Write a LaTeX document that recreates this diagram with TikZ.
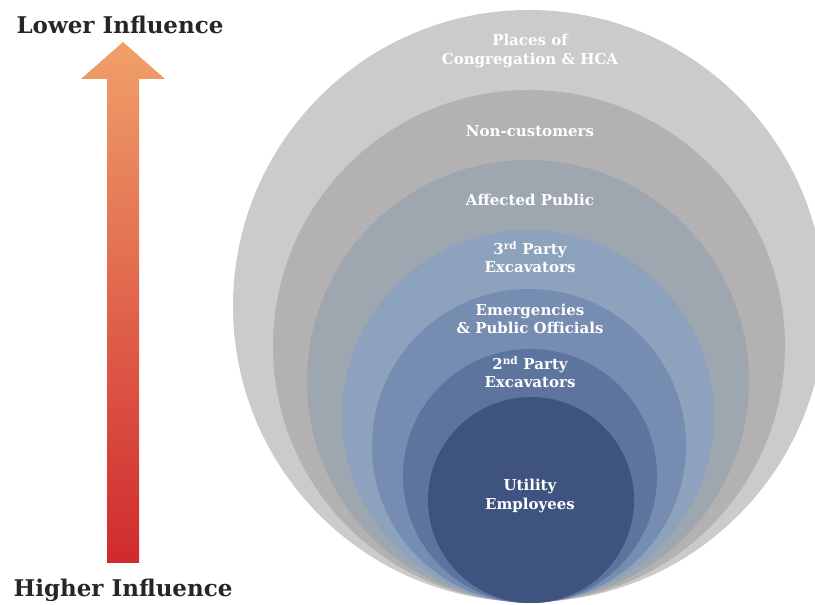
\documentclass[tikz,border=0pt]{standalone}
\usepackage{fontspec}
\setmainfont{DejaVu Serif}
\usepackage{tikz}

\definecolor{ringA}{HTML}{CCCBCC}
\definecolor{ringB}{HTML}{B4B1B2}
\definecolor{ringC}{HTML}{9EA6B0}
\definecolor{ringD}{HTML}{8CA2BD}
\definecolor{ringE}{HTML}{768DB1}
\definecolor{ringF}{HTML}{5C749E}
\definecolor{ringG}{HTML}{3E5380}
\definecolor{arrowtop}{HTML}{F0A06A}
\definecolor{arrowbottom}{HTML}{D02A2E}

\begin{document}
\begin{tikzpicture}[x=1pt, y=1pt,
    ringtext/.style={text=white, align=center, inner sep=0pt,
        font=\bfseries\fontsize{15}{18.5}\selectfont},
    influence/.style={text=black!85, inner sep=0pt,
        font=\bfseries\fontsize{23}{26}\selectfont}]
            \clip (0,0) rectangle (815,605);

            % Circulos (tangentes abajo)
            \fill[ringA] (529,299) circle (296);
            \fill[ringB] (529,259) circle (256);
            \fill[ringC] (528,224) circle (221);
            \fill[ringD] (528,189) circle (186);
            \fill[ringE] (529,159) circle (157);
            \fill[ringF] (530,129) circle (127);
            \fill[ringG] (531,105) circle (103);

            % Textos de los circulos
            \node[ringtext] (places) at (530,554) {Places of\\Congregation \& HCA};
            \node[ringtext] (noncust) at (530,474) {Non-customers};
            \node[ringtext] (affected) at (530,405) {Affected Public};
            \node[ringtext] (third) at (530,348) {3\textsuperscript{rd} Party\\Excavators};
            \node[ringtext] (emerg) at (530,286) {Emergencies\\\& Public Officials};
            \node[ringtext] (second) at (530,233) {2\textsuperscript{nd} Party\\Excavators};
            \node[ringtext] (utility) at (530,109) {Utility\\Employees};

            % Flecha
            \shade[top color=arrowtop, bottom color=arrowbottom]
                (107,42) -- (107,526) -- (81,526) -- (123,563) -- (165,526) -- (139,526) -- (139,42) -- cycle;

            % Extremos
            \node[influence] (lower) at (120,580) {Lower Influence};
            \node[influence] (higher) at (123,15) {Higher Influence};
        \end{tikzpicture}
\end{document}
